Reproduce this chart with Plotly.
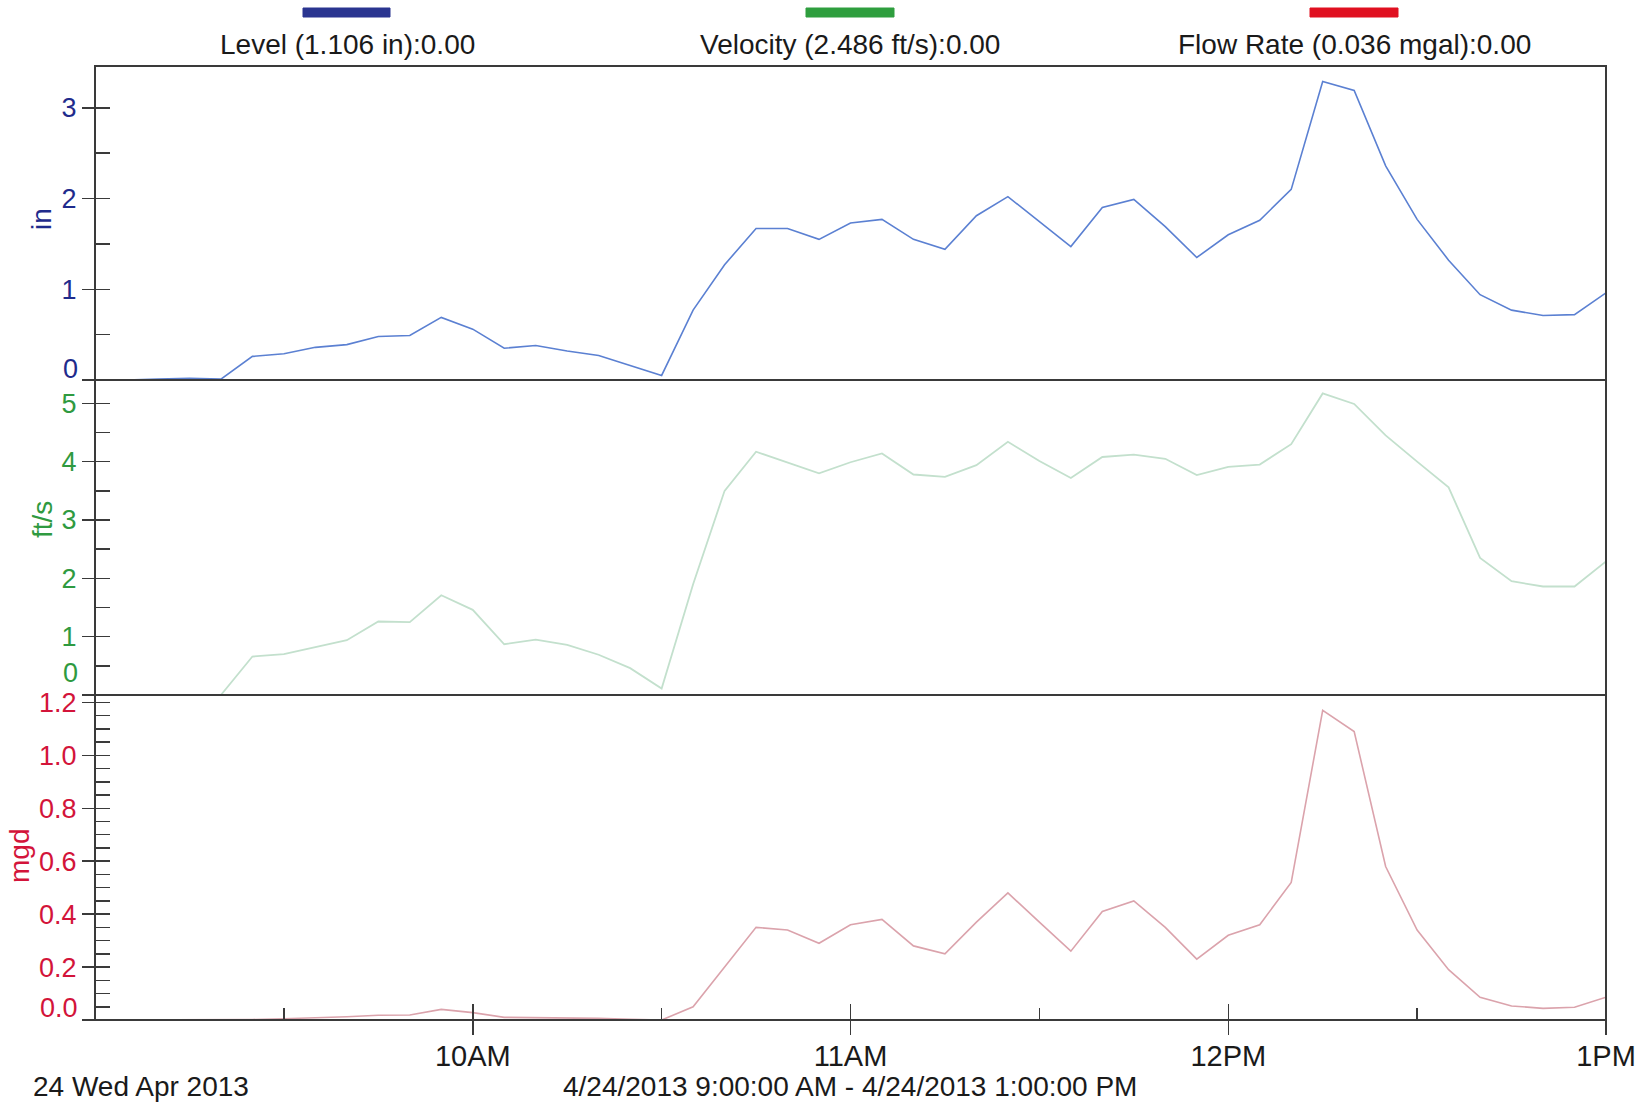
import pandas as pd
import plotly.graph_objects as go

# ---------------- data (5-minute readings, 9:00 AM - 1:00 PM, 24 Apr 2013) ----------------
times = pd.date_range("2013-04-24 09:00", "2013-04-24 13:00", freq="5min")

level_in = [0.00, 0.00, 0.01, 0.02, 0.01, 0.26, 0.29, 0.36, 0.39, 0.48,
            0.49, 0.69, 0.56, 0.35, 0.38, 0.32, 0.27, 0.16, 0.05, 0.77,
            1.27, 1.67, 1.67, 1.55, 1.73, 1.77, 1.55, 1.44, 1.81, 2.02,
            1.75, 1.47, 1.90, 1.99, 1.69, 1.35, 1.60, 1.76, 2.10, 3.29,
            3.19, 2.36, 1.77, 1.32, 0.94, 0.77, 0.71, 0.72, 0.96]

velocity_fps = [0.00, 0.00, 0.00, 0.00, 0.00, 0.66, 0.70, 0.82, 0.94, 1.26,
                1.25, 1.71, 1.46, 0.87, 0.95, 0.86, 0.69, 0.46, 0.11, 1.90,
                3.50, 4.17, 3.99, 3.80, 3.99, 4.14, 3.78, 3.74, 3.94, 4.34,
                4.01, 3.72, 4.08, 4.12, 4.05, 3.77, 3.91, 3.95, 4.30, 5.17,
                4.99, 4.45, 4.00, 3.56, 2.35, 1.95, 1.86, 1.86, 2.29]

flow_mgd = [0.000, 0.000, 0.000, 0.000, 0.000, 0.002, 0.005, 0.008, 0.012, 0.018,
            0.019, 0.040, 0.028, 0.010, 0.009, 0.007, 0.006, 0.003, 0.000, 0.050,
            0.200, 0.350, 0.340, 0.290, 0.360, 0.380, 0.280, 0.250, 0.370, 0.480,
            0.370, 0.260, 0.410, 0.450, 0.350, 0.230, 0.320, 0.360, 0.520, 1.170,
            1.090, 0.580, 0.340, 0.190, 0.086, 0.053, 0.044, 0.048, 0.086]

legend_labels = ["Level (1.106 in):0.00", "Velocity (2.486 ft/s):0.00", "Flow Rate (0.036 mgal):0.00"]
hour_ticks = ["2013-04-24 10:00", "2013-04-24 11:00", "2013-04-24 12:00", "2013-04-24 13:00"]
hour_labels = ["10AM", "11AM", "12PM", "1PM"]
date_label = "24 Wed Apr 2013"
range_label = "4/24/2013 9:00:00 AM - 4/24/2013 1:00:00 PM"

# ---------------- styling ----------------
FONT = "Liberation Sans, Arial, sans-serif"
C_LEVEL_TXT, C_VEL_TXT, C_FLOW_TXT = "#1f2b8c", "#2f9a40", "#d3143a"
C_LEVEL_BAR, C_VEL_BAR, C_FLOW_BAR = "#2a3590", "#2e9e3e", "#e01020"
C_LEVEL_LINE, C_VEL_LINE, C_FLOW_LINE = "#5b80d2", "#c3e0cd", "#dba3ac"
AX = "#3a3a3a"
FS_TXT, FS_YT, FS_XT = 28, 27, 29

W, H = 1637, 1102
L, R, T, B = 95, 31, 66, 82
PH = H - T - B
PW = W - L - R


def py(ypix):
    return (H - B - ypix) / PH


def px(xpix):
    return (xpix - L) / PW


d_top = [py(380), 1.0]
d_mid = [py(695), py(380)]
d_bot = [0.0, py(695)]

xr = ["2013-04-24 09:00", "2013-04-24 13:00"]
r_top, r_mid, r_bot = [0, 3.46], [0, 5.40], [0, 1.228]

fig = go.Figure()
fig.add_trace(go.Scatter(x=times, y=level_in, mode="lines", line=dict(color=C_LEVEL_LINE, width=1.6),
                         xaxis="x", yaxis="y", showlegend=False))
fig.add_trace(go.Scatter(x=times, y=velocity_fps, mode="lines", line=dict(color=C_VEL_LINE, width=1.8),
                         xaxis="x2", yaxis="y2", showlegend=False))
fig.add_trace(go.Scatter(x=times, y=flow_mgd, mode="lines", line=dict(color=C_FLOW_LINE, width=1.6),
                         xaxis="x3", yaxis="y3", showlegend=False))
# empty traces so the overlay (inside-tick) axes get drawn
for xa, ya in [("x", "y4"), ("x2", "y5"), ("x3", "y6"), ("x4", "y3")]:
    fig.add_trace(go.Scatter(x=[None], y=[None], xaxis=xa, yaxis=ya, showlegend=False, hoverinfo="skip"))

hidden_x = dict(range=xr, type="date", showticklabels=False, ticks="", showline=False,
                showgrid=False, zeroline=False, automargin=False)


def main_y(domain, rng, vals, texts, color, anchor):
    return dict(domain=domain, range=rng, anchor=anchor, automargin=False,
                tickvals=vals, ticktext=texts, ticks="outside", ticklen=12, tickwidth=1.5,
                tickcolor=AX, tickfont=dict(family=FONT, size=FS_YT, color=color),
                showgrid=False, zeroline=False, showline=False, fixedrange=True)


def over_y(base, anchor, rng, step):
    return dict(overlaying=base, anchor=anchor, side="left", range=rng, tick0=0, dtick=step,
                automargin=False,
                ticks="inside", ticklen=15, tickwidth=1.5, tickcolor=AX, showticklabels=False,
                showgrid=False, zeroline=False, showline=False)


ytop = main_y(d_top, r_top, [0, 1, 2, 3], ["", "1", "2", "3"], C_LEVEL_TXT, "x")
ymid = main_y(d_mid, r_mid, [0, 1, 2, 3, 4, 5], ["", "1", "2", "3", "4", "5"], C_VEL_TXT, "x2")
ybot = main_y(d_bot, r_bot, [0, 0.2, 0.4, 0.6, 0.8, 1.0, 1.2],
              ["", "0.2", "0.4", "0.6", "0.8", "1.0", "1.2"], C_FLOW_TXT, "x3")

fig.update_layout(
    width=W, height=H, autosize=False,
    margin=dict(l=L, r=R, t=T, b=B),
    paper_bgcolor="white", plot_bgcolor="white",
    font=dict(family=FONT, size=FS_TXT, color="#1a1a1a"),
    xaxis=dict(**hidden_x, anchor="y"),
    xaxis2=dict(**hidden_x, anchor="y2", matches="x"),
    xaxis3=dict(range=xr, type="date", anchor="y3", matches="x", tickvals=hour_ticks, ticktext=hour_labels,
                automargin=False, ticklabelstandoff=-4,
                ticks="outside", ticklen=14, tickwidth=1.5, tickcolor=AX,
                tickfont=dict(family=FONT, size=FS_XT, color="#1a1a1a"),
                showgrid=False, zeroline=False, showline=False),
    xaxis4=dict(overlaying="x3", anchor="y3", range=xr, type="date", automargin=False,
                tick0="2013-04-24 09:00", dtick=3600000, ticks="inside", ticklen=16, tickwidth=1.5,
                tickcolor=AX, showticklabels=False, showgrid=False, zeroline=False, showline=False,
                minor=dict(dtick=1800000, ticks="inside", ticklen=12, tickwidth=1.5, tickcolor=AX,
                           showgrid=False)),
    yaxis=ytop, yaxis2=ymid, yaxis3=ybot,
    yaxis4=over_y("y", "x", r_top, 0.5),
    yaxis5=over_y("y2", "x2", r_mid, 0.5),
    yaxis6=over_y("y3", "x3", r_bot, 0.05),
    hovermode=False,
)

# frame and panel separators
shapes = [
    dict(type="rect", xref="paper", yref="paper", x0=0, x1=1, y0=0, y1=1, line=dict(color=AX, width=2)),
    dict(type="line", xref="paper", yref="paper", x0=0, x1=1, y0=d_top[0], y1=d_top[0], line=dict(color=AX, width=2)),
    dict(type="line", xref="paper", yref="paper", x0=0, x1=1, y0=d_mid[0], y1=d_mid[0], line=dict(color=AX, width=2)),
]
# legend swatches
for (x0, x1), col in zip([(303, 390), (806, 894), (1310, 1398)], [C_LEVEL_BAR, C_VEL_BAR, C_FLOW_BAR]):
    shapes.append(dict(type="rect", xref="paper", yref="paper", x0=px(x0), x1=px(x1), y0=py(17), y1=py(8),
                       fillcolor=col, line=dict(color=col, width=1)))
fig.update_layout(shapes=shapes)

ann = []
for cx, txt in zip([347, 850, 1354], legend_labels):
    ann.append(dict(xref="paper", yref="paper", x=px(cx), y=py(45), text=txt, showarrow=False,
                    xanchor="center", yanchor="middle", font=dict(family=FONT, size=FS_TXT, color="#1a1a1a")))
# axis titles
for x, y, txt, col in [(42, 219, "in", C_LEVEL_TXT), (42, 519, "ft/s", C_VEL_TXT), (19, 856, "mgd", C_FLOW_TXT)]:
    ann.append(dict(xref="paper", yref="paper", x=px(x), y=py(y), text=txt, showarrow=False, textangle=-90,
                    xanchor="center", yanchor="middle", font=dict(family=FONT, size=FS_TXT, color=col)))
# zero labels (nudged up inside their panels)
for y, txt, col in [(369, "0", C_LEVEL_TXT), (673, "0", C_VEL_TXT), (1008, "0.0", C_FLOW_TXT)]:
    ann.append(dict(xref="paper", yref="paper", x=px(80), y=py(y), text=txt, showarrow=False,
                    xanchor="right", yanchor="middle", font=dict(family=FONT, size=FS_YT, color=col)))
# bottom captions
ann.append(dict(xref="paper", yref="paper", x=px(31), y=py(1086), text=date_label, showarrow=False,
                xanchor="left", yanchor="middle", font=dict(family=FONT, size=FS_TXT, color="#1a1a1a")))
ann.append(dict(xref="paper", yref="paper", x=px(850), y=py(1086), text=range_label, showarrow=False,
                xanchor="center", yanchor="middle", font=dict(family=FONT, size=FS_TXT, color="#1a1a1a")))
fig.update_layout(annotations=ann)

fig.write_html("out.html", config={"displayModeBar": False, "staticPlot": True},
               post_script="document.body.style.margin='0';")
